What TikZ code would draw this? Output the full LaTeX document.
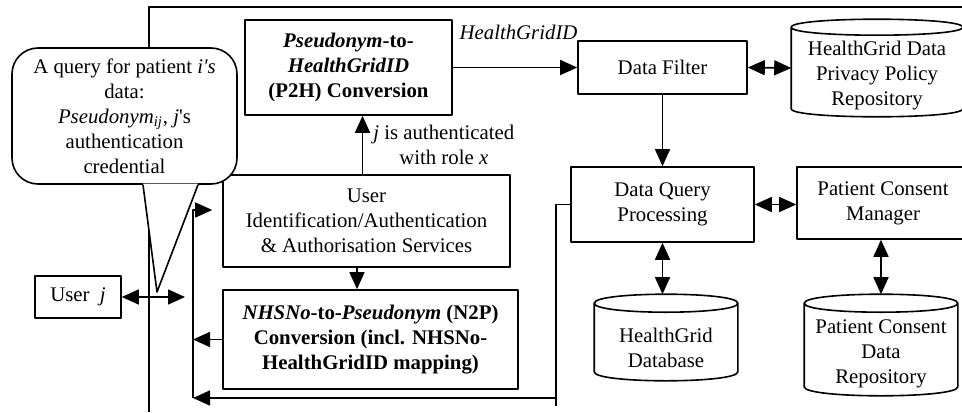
\documentclass[tikz,border=0pt]{standalone}
\usepackage{fontspec}
\setmainfont{Liberation Serif}
\usetikzlibrary{arrows.meta,calc}

% drum outline round a plain node: #1 node name, #2 cap height
\newcommand{\drawdb}[2]{%
	\draw ([yshift=-#2]#1.north west) -- ([yshift=#2]#1.south west)
		.. controls ([yshift=-#2/3]#1.south west) and ([yshift=-#2/3]#1.south east) .. ([yshift=#2]#1.south east)
		-- ([yshift=-#2]#1.north east)
		.. controls ([yshift=#2/3]#1.north east) and ([yshift=#2/3]#1.north west) .. ([yshift=-#2]#1.north west)
		.. controls ([yshift=-7*#2/3]#1.north west) and ([yshift=-7*#2/3]#1.north east) .. ([yshift=-#2]#1.north east);}

\begin{document}
\begin{tikzpicture}[x=0.5pt, y=-0.5pt, font=\fontsize{10.4}{12.5}\selectfont, line width=0.8pt, line join=round, >={Triangle[length=8.5pt,width=7.5pt]},
	blk/.style={draw, align=center, inner sep=0pt},
	db/.style={inner sep=0pt},
	lbl/.style={align=center, inner sep=0pt},
	bubble/.style={draw, fill=white, rounded corners=13pt, align=center, inner sep=0pt}]
	\def\cap{4.5pt}
	\useasboundingbox (0,0) rectangle (962,412);
	% system border
	\draw (149,412) -- (149,7) -- (970,7);
	% left column
	\node[blk, minimum width=43pt, minimum height=21pt] (user) at (78,297) {User~~\textit{j}};
	\node[blk, minimum width=103.5pt, minimum height=47.5pt] (p2h) at (348.5,67.5) {\textbf{\textit{Pseudonym}-to-}\\\textbf{\textit{HealthGridID}}\\\textbf{(P2H) Conversion}};
	\node[blk, minimum width=143.5pt, minimum height=46pt] (uas) at (366.5,221) {User\\Identification/Authentication\\\& Authorisation Services};
	\node[blk, minimum width=147.5pt, minimum height=49.5pt] (n2p) at (370.5,339.5) {\textbf{\textit{NHSNo}-to-\textit{Pseudonym} (N2P)}\\\textbf{Conversion (incl. NHSNo-}\\\textbf{HealthGridID mapping)}};
	% right side
	\node[blk, minimum width=84.5pt, minimum height=26.5pt] (filter) at (662.5,67.5) {Data Filter};
	\node[blk, minimum width=91.5pt, minimum height=37.5pt] (dqp) at (662.5,204.5) {Data Query\\Processing};
	\node[blk, minimum width=86pt, minimum height=36pt] (pcm) at (883,203) {Patient Consent\\Manager};
	% repositories
	\node[db, minimum width=85pt, minimum height=48pt] (policy) at (877,68) {};
	\node[db, minimum width=71pt, minimum height=42.5pt] (hgdb) at (666,337.5) {};
	\node[db, minimum width=76pt, minimum height=50pt] (pcdr) at (881,345) {};
	\drawdb{policy}{4pt}
	\drawdb{hgdb}{\cap}
	\drawdb{pcdr}{\cap}
	\node[lbl, fill=white] (policyT) at ([yshift=-4pt]policy.center) {HealthGrid Data\\Privacy Policy\\Repository};
	\node[lbl] (hgdbT) at ([yshift=-5pt]hgdb.center) {HealthGrid\\Database};
	\node[lbl] (pcdrT) at ([yshift=-4.5pt]pcdr.center) {Patient Consent\\Data\\Repository};
	% connectors
	\draw[->] (p2h.east) -- node[lbl, pos=0, anchor=south west, xshift=3pt, yshift=13.5pt] (hgid) {\textit{HealthGridID}} (filter.west);
	\draw[->] (filter.south) -- (dqp.north);
	\draw[<->] (filter.east) -- (policy.west);
	\draw[<->] (dqp.east) -- (dqp.east -| pcm.west);
	\draw[<->] (dqp.south) -- (dqp.south |- hgdb.north);
	\draw[<->] (pcdr.north) -- (pcdr.north |- pcm.south);
	\draw[->] ([xshift=-2pt]uas.north) -- node[lbl, anchor=west, xshift=5pt] (auth) {\textit{j} is authenticated\\with role \textit{x}} ([xshift=-2pt]uas.north |- p2h.south);
	\draw[->] ([xshift=-4.75pt]uas.south) -- ([xshift=-4.75pt]uas.south |- n2p.north);
	% return bus
	\coordinate (busT) at (193,210);
	\coordinate (busB) at (193,398);
	\draw[->] (busB) -- (busT) -- ([xshift=-5pt]uas.west |- busT);
	\draw[->] (n2p.west) -- (n2p.west -| busT);
	\draw (dqp.west) -- ++(-14,0) coordinate (dqL) -- ++(0,201);
	\draw[->] (dqL |- busB) -- (busB);
	\draw[<->] (user.east) -- ([xshift=-4pt]user.east -| busT);
	% query callout
	\node[bubble, minimum width=112.5pt, minimum height=68pt] (query) at (124.5,116) {A query for patient \textit{i\textquotesingle s}\\data:\\\textit{Pseudonym\textsubscript{ij}}, \textit{j}\textquotesingle s\\authentication\\credential};
	\coordinate (qtip) at (157,292);
	\fill[white] ([xshift=9.25pt,yshift=0.6pt]query.south) -- (qtip) -- ([xshift=36.75pt,yshift=0.6pt]query.south) -- cycle;
	\draw ([xshift=9.25pt]query.south) -- (qtip) -- ([xshift=36.75pt]query.south);
\end{tikzpicture}
\end{document}
